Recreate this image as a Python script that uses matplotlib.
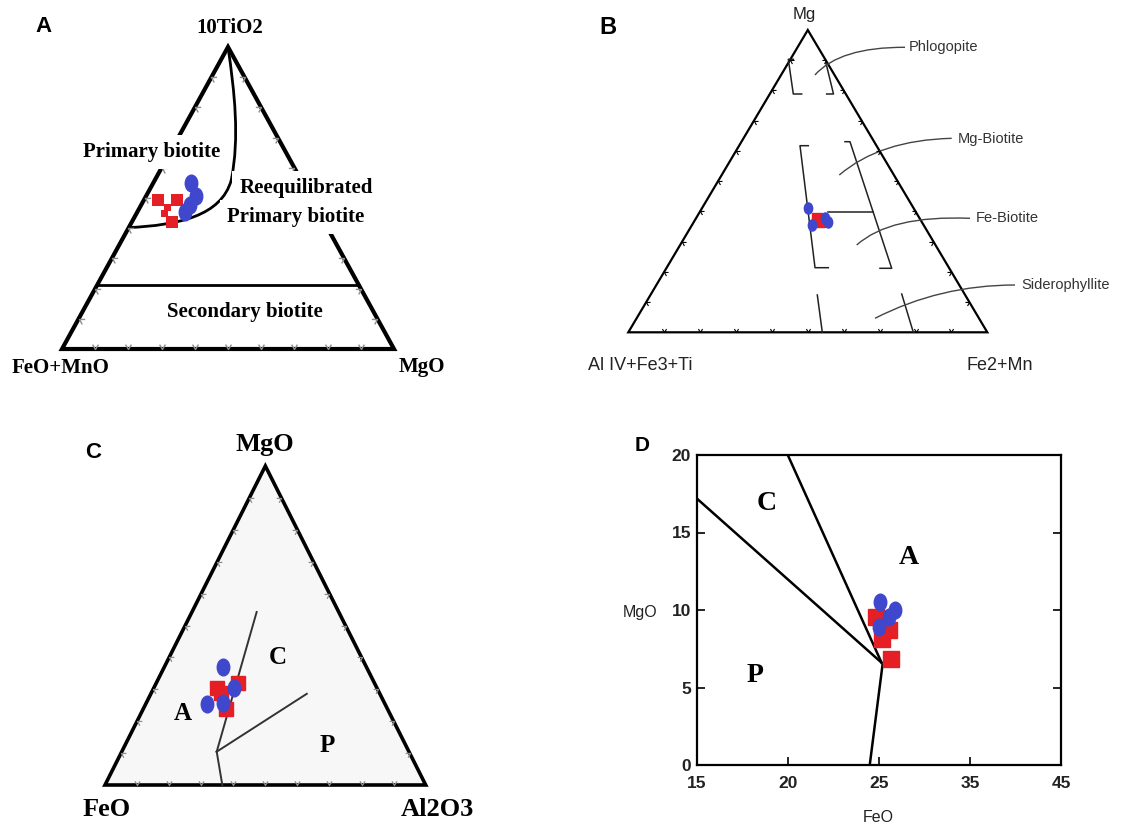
import numpy as np
import matplotlib
matplotlib.use("Agg")
import matplotlib.pyplot as plt
from matplotlib.markers import MarkerStyle
from matplotlib.path import Path
from matplotlib.patches import PathPatch, Polygon
from matplotlib.transforms import Affine2D

W, H = 1123, 824

# ------------------------------------------------------------------ data
# Panel A : 10TiO2 (top) - FeO+MnO (left) - MgO (right), fractions
a_sq_ti = [0.493, 0.493, 0.468, 0.449, 0.420]
a_sq_fe = [0.463, 0.408, 0.448, 0.466, 0.460]
a_sq_mg = [0.044, 0.099, 0.084, 0.085, 0.120]
a_ci_ti = [0.549, 0.508, 0.477, 0.455]
a_ci_fe = [0.338, 0.342, 0.376, 0.402]
a_ci_mg = [0.113, 0.150, 0.147, 0.143]

# Panel B : Mg (top) - AlIV+Fe3+Ti (left) - Fe2+Mn (right)
b_sq_mg = [0.377, 0.366]
b_sq_al = [0.287, 0.283]
b_sq_fe = [0.336, 0.351]
b_ci_mg = [0.410, 0.355, 0.377, 0.366]
b_ci_al = [0.294, 0.312, 0.264, 0.260]
b_ci_fe = [0.296, 0.333, 0.359, 0.374]

# Panel C : MgO (top) - FeO (left) - Al2O3 (right)
c_sq_mg = [0.304, 0.320, 0.288, 0.239]
c_sq_fe = [0.500, 0.424, 0.495, 0.503]
c_sq_al = [0.196, 0.256, 0.217, 0.258]
c_ci_mg = [0.371, 0.303, 0.258, 0.253]
c_ci_fe = [0.446, 0.445, 0.504, 0.557]
c_ci_al = [0.183, 0.252, 0.238, 0.190]

# Panel D : FeO vs MgO
d_sq_feo = [24.82, 26.10, 25.37, 26.37]
d_sq_mgo = [9.53, 8.71, 8.11, 6.84]
d_ci_feo = [25.08, 26.73, 26.10, 25.00]
d_ci_mgo = [10.54, 10.00, 9.53, 8.92]
d_xticks = [15, 20, 25, 35, 45]
d_yticks = [0, 5, 10, 15, 20]
d_xticklabels = ["15", "20", "25", "35", "45"]
d_yticklabels = ["0", "5", "10", "15", "20"]

RED = "#e41f26"
BLUE = "#3f48cc"
SERIF = "Liberation Serif"
SANS = "Liberation Sans"
LET = "Liberation Sans"

fig = plt.figure(figsize=(W / 100, H / 100), dpi=100)
fig.patch.set_facecolor("white")


def ptxt(x, y, s, **kw):
    kw.setdefault("ha", "center")
    kw.setdefault("va", "center")
    return fig.text(x / W, 1 - y / H, s, **kw)


def tern(top, left, right):
    top = np.asarray(top, float)
    left = np.asarray(left, float)
    right = np.asarray(right, float)
    s = top + left + right
    a = top / s
    c = right / s
    return c + 0.5 * a, a


def panel(x0, y0, x1, y1):
    ax = fig.add_axes([x0 / W, 1 - y1 / H, (x1 - x0) / W, (y1 - y0) / H])
    ax.set_xlim(0, 1)
    ax.set_ylim(0, 1)
    ax.axis("off")
    return ax


def vmark(angle):
    p = Path([(-0.6, 1.0), (0, 0), (0.6, 1.0)],
             [Path.MOVETO, Path.LINETO, Path.LINETO])
    return MarkerStyle(p, transform=Affine2D().rotate_deg(angle))


def edge_ticks(ax, color, size, mew):
    s = np.arange(1, 10) / 10.0
    kw = dict(linestyle="none", markerfacecolor="none", markeredgecolor=color,
              markersize=size, markeredgewidth=mew, clip_on=False, zorder=3)
    ax.plot(s, np.zeros_like(s), marker=vmark(0), **kw)
    ax.plot(0.5 * s, s, marker=vmark(-120), **kw)
    ax.plot(1 - 0.5 * s, s, marker=vmark(120), **kw)


def triangle(ax, lw, face="none"):
    tri = Polygon([(0, 0), (1, 0), (0.5, 1)], closed=True, facecolor=face,
                  edgecolor="black", lw=lw, joinstyle="miter", clip_on=False,
                  zorder=2)
    ax.add_patch(tri)


uc = Path.unit_circle()
ELL = Path(uc.vertices * np.array([0.75, 1.0]), uc.codes)

# ------------------------------------------------------------------ panel A
axA = panel(62, 47, 394, 349)
triangle(axA, 3.0)
edge_ticks(axA, "#8c8c8c", 7, 1.0)
# primary / reequilibrated boundary
curve = Path([(0.5, 1.0), (0.52, 0.85), (0.535, 0.70), (0.51, 0.56),
              (0.48, 0.44), (0.35, 0.41), (0.201, 0.402)],
             [Path.MOVETO] + [Path.CURVE4] * 6)
axA.add_patch(PathPatch(curve, facecolor="none", edgecolor="black", lw=2.0,
                        clip_on=False, zorder=2))
# secondary boundary
axA.plot([0.106, 0.894], [0.212, 0.212], color="black", lw=2.0, zorder=2)
xs, ys = tern(a_sq_ti, a_sq_fe, a_sq_mg)
axA.scatter(xs, ys, marker="s", s=[75, 75, 28, 28, 75], color=RED, zorder=5,
            clip_on=False, linewidths=0)
xs, ys = tern(a_ci_ti, a_ci_fe, a_ci_mg)
axA.plot(xs, ys, linestyle="none", marker=ELL, markersize=12, color=BLUE,
         zorder=6, clip_on=False)

bb = dict(facecolor="white", edgecolor="none", boxstyle="square,pad=0.35")
ptxt(43, 27, "A", family=LET, weight="bold", fontsize=16)
ptxt(230, 28, "10TiO2", family=SERIF, weight="bold", fontsize=15)
ptxt(61, 368, "FeO+MnO", family=SERIF, weight="bold", fontsize=15)
ptxt(422, 367, "MgO", family=SERIF, weight="bold", fontsize=15)
ptxt(152, 152, "Primary biotite", family=SERIF, weight="bold", fontsize=15,
     bbox=bb)
ptxt(306, 188, "Reequilibrated", family=SERIF, weight="bold", fontsize=15,
     bbox=bb)
ptxt(296, 217, "Primary biotite", family=SERIF, weight="bold", fontsize=15,
     bbox=bb)
ptxt(245, 312, "Secondary biotite", family=SERIF, weight="bold", fontsize=15)

# ------------------------------------------------------------------ panel B
axB = panel(628.3, 30, 987.3, 332.3)
triangle(axB, 1.6)
edge_ticks(axB, "black", 5, 0.8)
blines = [
    [(0.4596, 0.9031), (0.4457, 0.9031), (0.4596, 0.7883), (0.4830, 0.7883)],
    [(0.5507, 0.8899), (0.5716, 0.7883), (0.5526, 0.7883)],
    [(0.5014, 0.6173), (0.4783, 0.6173), (0.5201, 0.2137), (0.5571, 0.2137)],
    [(0.6036, 0.6305), (0.6175, 0.6305), (0.7337, 0.2117), (0.7011, 0.2117)],
    [(0.5571, 0.3989), (0.6808, 0.3989)],
    [(0.5265, 0.1234), (0.5404, 0.0)],
    [(0.7616, 0.1267), (0.7939, 0.0)],
]
for ln in blines:
    arr = np.array(ln)
    axB.plot(arr[:, 0], arr[:, 1], color="#222222", lw=1.1, zorder=2,
             clip_on=False)
leaders = [
    ([(0.5198, 0.8512), (0.5891, 0.9438), (0.7708, 0.9428)], "Phlogopite",
     (909, 47)),
    ([(0.5877, 0.5203), (0.7011, 0.6361), (0.9008, 0.6417)], "Mg-Biotite",
     (958, 139)),
    ([(0.6362, 0.2888), (0.7290, 0.3880), (0.9518, 0.3771)], "Fe-Biotite",
     (975.5, 218)),
    ([(0.6872, 0.0463), (0.8682, 0.1565), (1.0772, 0.1565)], "Siderophyllite",
     (1021, 285.5)),
]
for pts, lab, (lx, ly) in leaders:
    pth = Path(pts, [Path.MOVETO, Path.CURVE3, Path.CURVE3])
    axB.add_patch(PathPatch(pth, facecolor="none", edgecolor="#444444",
                            lw=1.0, clip_on=False, zorder=2))
    ptxt(lx, ly, lab, family=SANS, fontsize=10.5, color="#333333", ha="left")
xs, ys = tern(b_sq_mg, b_sq_al, b_sq_fe)
axB.plot(xs, ys, linestyle="none", marker="s", markersize=7.5, color=RED,
         zorder=5)
xs, ys = tern(b_ci_mg, b_ci_al, b_ci_fe)
axB.plot(xs, ys, linestyle="none", marker=ELL, markersize=8, color=BLUE,
         zorder=6)
ptxt(608, 27, "B", family=LET, weight="bold", fontsize=17)
ptxt(804, 14, "Mg", family=SANS, fontsize=12, color="#222222")
ptxt(640.5, 366, "Al IV+Fe3+Ti", family=SANS, fontsize=13, color="#222222")
ptxt(1000, 366, "Fe2+Mn", family=SANS, fontsize=13, color="#222222")

# ------------------------------------------------------------------ panel C
axC = panel(105, 466, 425.7, 785)
triangle(axC, 2.6, face="#f7f7f7")
edge_ticks(axC, "#8c8c8c", 6, 0.9)
cj = (0.3483, 0.1044)
for end in [(0.4729, 0.5423), (0.6292, 0.2859), (0.3658, 0.0)]:
    axC.plot([cj[0], end[0]], [cj[1], end[1]], color="#333333", lw=1.4,
             zorder=3, clip_on=False)
xs, ys = tern(c_sq_mg, c_sq_fe, c_sq_al)
axC.plot(xs, ys, linestyle="none", marker="s", markersize=10.5, color=RED,
         zorder=5)
xs, ys = tern(c_ci_mg, c_ci_fe, c_ci_al)
axC.plot(xs, ys, linestyle="none", marker=ELL, markersize=12, color=BLUE,
         zorder=6)
ptxt(93, 453, "C", family=LET, weight="bold", fontsize=16)
ptxt(265, 444, "MgO", family=SERIF, weight="bold", fontsize=19)
ptxt(107, 810, "FeO", family=SERIF, weight="bold", fontsize=19)
ptxt(437, 810, "Al2O3", family=SERIF, weight="bold", fontsize=19)
ptxt(278, 657, "C", family=SERIF, weight="bold", fontsize=18)
ptxt(183, 713, "A", family=SERIF, weight="bold", fontsize=18)
ptxt(327, 746, "P", family=SERIF, weight="bold", fontsize=18)

# ------------------------------------------------------------------ panel D
axD = fig.add_axes([696.7 / W, 1 - 765 / H, (1061 - 696.7) / W, 310 / H])
pos = np.arange(len(d_xticks), dtype=float)
fwd = lambda x: np.interp(x, d_xticks, pos)
inv = lambda p: np.interp(p, pos, d_xticks)
axD.set_xscale("function", functions=(fwd, inv))
axD.set_xlim(15, 45)
axD.set_ylim(0, 20)
axD.set_xticks(d_xticks)
axD.set_xticklabels(d_xticklabels)
axD.set_yticks(d_yticks)
axD.set_yticklabels(d_yticklabels)
axD.xaxis.set_minor_locator(matplotlib.ticker.NullLocator())
axD.tick_params(direction="in", right=True, top=False, length=6, width=1.2,
                labelsize=12.5, pad=8)
axD.tick_params(axis="y", pad=4)
for lab in axD.get_xticklabels() + axD.get_yticklabels():
    lab.set_family(SANS)
    lab.set_weight("bold")
    lab.set_color("#222222")
for sp in axD.spines.values():
    sp.set_linewidth(1.6)
axD.plot([15, 25.3], [17.2, 6.6], color="black", lw=1.8)
axD.plot([20, 25.3], [20, 6.6], color="black", lw=1.8)
axD.plot([25.4, 24.5], [6.45, 0], color="black", lw=1.8)
axD.plot(d_sq_feo, d_sq_mgo, linestyle="none", marker="s", markersize=11,
         color=RED, zorder=5)
axD.plot(d_ci_feo, d_ci_mgo, linestyle="none", marker=ELL, markersize=12,
         color=BLUE, zorder=6)
ptxt(642, 445, "D", family=LET, weight="bold", fontsize=15)
ptxt(640, 612, "MgO", family=SANS, fontsize=11.5, color="#222222")
ptxt(878, 817, "FeO", family=SANS, fontsize=11.5, color="#222222")
ptxt(767, 503, "C", family=SERIF, weight="bold", fontsize=20)
ptxt(909, 557, "A", family=SERIF, weight="bold", fontsize=20)
ptxt(755, 675, "P", family=SERIF, weight="bold", fontsize=20)

fig.savefig("out.png", dpi=100)
